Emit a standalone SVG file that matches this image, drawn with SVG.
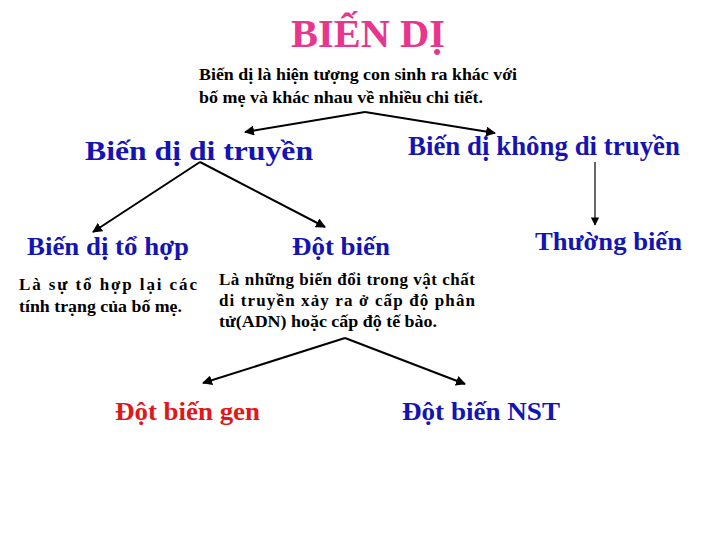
<svg xmlns="http://www.w3.org/2000/svg" width="720" height="540" viewBox="0 0 720 540">
<style>
text{font-family:"Liberation Serif","Times New Roman","DejaVu Serif",serif;font-weight:bold}
.title{fill:#E8368C;font-size:40px}
.desc{fill:#000;font-size:17px}
.blue{fill:#1414B4}
.red{fill:#E01818}
.h1{font-size:28px}
.h2{font-size:25px}
.small{fill:#000;font-size:17px}
.conn{stroke:#000;stroke-width:2;fill:none}
.thin{stroke:#000;stroke-width:1.2;fill:none}
</style>
<defs>
<marker id="ah" viewBox="0 0 10 10" refX="9" refY="5" markerWidth="5" markerHeight="5" orient="auto" markerUnits="strokeWidth">
<path d="M0,0 L10,5 L0,10 z" fill="#000"/>
</marker>
<marker id="ah2" viewBox="0 0 10 10" refX="9" refY="5" markerWidth="7" markerHeight="7" orient="auto" markerUnits="strokeWidth">
<path d="M0,0 L10,5 L0,10 z" fill="#000"/>
</marker>
</defs>
<g id="title"><text class="title" x="291" y="47" textLength="154" lengthAdjust="spacingAndGlyphs">BIẾN DỊ</text></g>
<g id="definition">
<text class="desc" x="199" y="80" textLength="318" lengthAdjust="spacingAndGlyphs">Biến dị là hiện tượng con sinh ra khác với</text>
<text class="desc" x="199" y="103" textLength="284" lengthAdjust="spacingAndGlyphs">bố mẹ và khác nhau về nhiều chi tiết.</text>
</g>
<g id="bien-di-di-truyen"><text class="blue h1" x="85" y="160" textLength="228" lengthAdjust="spacingAndGlyphs">Biến dị di truyền</text></g>
<g id="bien-di-khong-di-truyen"><text class="blue h1" x="408" y="155" textLength="272" lengthAdjust="spacingAndGlyphs">Biến dị không di truyền</text></g>
<g id="bien-di-to-hop">
<text class="blue h2" x="27" y="255" textLength="162" lengthAdjust="spacingAndGlyphs">Biến dị tổ hợp</text>
<text class="small" x="19" y="290" textLength="178" lengthAdjust="spacing">Là sự tổ hợp lại các</text>
<text class="small" x="19" y="312" textLength="163" lengthAdjust="spacingAndGlyphs">tính trạng của bố mẹ.</text>
</g>
<g id="dot-bien">
<text class="blue h2" x="292" y="255" textLength="98" lengthAdjust="spacingAndGlyphs">Đột biến</text>
<text class="small" x="219" y="285" textLength="256" lengthAdjust="spacing">Là những biến đổi trong vật chất</text>
<text class="small" x="219" y="306" textLength="256" lengthAdjust="spacing">di truyền xảy ra ở cấp độ phân</text>
<text class="small" x="219" y="327" textLength="218" lengthAdjust="spacingAndGlyphs">tử(ADN) hoặc cấp độ tế bào.</text>
</g>
<g id="thuong-bien"><text class="blue h2" x="535" y="250" textLength="147" lengthAdjust="spacingAndGlyphs">Thường biến</text></g>
<g id="dot-bien-gen"><text class="red h2" x="115" y="420" textLength="145" lengthAdjust="spacingAndGlyphs">Đột biến gen</text></g>
<g id="dot-bien-nst"><text class="blue h2" x="402" y="420" textLength="158" lengthAdjust="spacingAndGlyphs">Đột biến NST</text></g>
<g id="connectors">
<polyline class="conn" points="365,112 245,132" marker-end="url(#ah)"/>
<polyline class="conn" points="365,112 495,133" marker-end="url(#ah)"/>
<polyline class="conn" points="200,162 93,232" marker-end="url(#ah)"/>
<polyline class="conn" points="200,162 325,227" marker-end="url(#ah)"/>
<polyline class="thin" points="595,162 595,225" marker-end="url(#ah2)"/>
<polyline class="conn" points="345,338 203,383" marker-end="url(#ah)"/>
<polyline class="conn" points="345,338 465,384" marker-end="url(#ah)"/>
</g>
</svg>
